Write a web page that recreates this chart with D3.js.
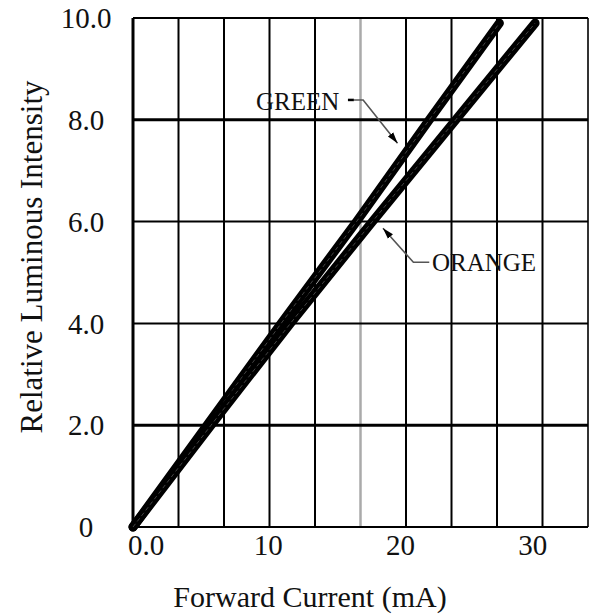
<!DOCTYPE html>
<html><head><meta charset="utf-8">
<script src="https://cdn.jsdelivr.net/npm/d3@7"></script>
<style>html,body{margin:0;padding:0;background:#fff;}</style>
</head><body>
<svg id="c" width="595" height="615"></svg>
<script>
// Data (Forward Current mA, Relative Luminous Intensity)
const greenCurrent = [0, 5.6, 11.2, 16.9, 22.4, 27.7];
const greenIntensity = [0, 2.0, 4.0, 6.0, 8.0, 9.9];
const orangeCurrent = [0, 5.9, 11.9, 18.1, 24.4, 30.4];
const orangeIntensity = [0, 2.0, 4.0, 6.0, 8.0, 9.9];
const xTicks = [0, 10, 20, 30];
const xTickLabels = ["0.0", "10", "20", "30"];
const yTicks = [0, 2, 4, 6, 8, 10];
const yTickLabels = ["0", "2.0", "4.0", "6.0", "8.0", "10.0"];
const seriesNames = ["GREEN", "ORANGE"];

const FONT = "'Liberation Serif', 'Times New Roman', Times, 'DejaVu Serif', serif";
const svg = d3.select("#c").attr("font-family", FONT);
const L = 133, R = 588, T = 18, B = 527;
const x = d3.scaleLinear().domain([0, 34.4]).range([L, R]);
const y = d3.scaleLinear().domain([0, 10]).range([B, T]);
const gx = d3.scaleLinear().domain([0, 10]).range([L, R]); // grid columns

svg.append("rect").attr("width", 595).attr("height", 615).attr("fill", "#fff");

// vertical grid
const g = svg.append("g");
d3.range(0, 11).forEach(i => {
  g.append("line").attr("x1", gx(i)).attr("x2", gx(i)).attr("y1", y(10)).attr("y2", y(0))
    .attr("stroke", i === 5 ? "#aaa" : (i === 10 ? "#333" : "#000"))
    .attr("stroke-width", i === 0 ? 3 : (i === 5 ? 2.5 : 2));
});
// horizontal grid
yTicks.forEach(v => {
  g.append("line").attr("x1", L).attr("x2", R).attr("y1", y(v)).attr("y2", y(v))
    .attr("stroke", "#000").attr("stroke-width", (v === 8 || v === 2) ? 3 : 2);
});

// tick labels
svg.selectAll(".yl").data(yTicks).enter().append("text")
  .attr("font-family", FONT)
  .attr("x", 86).attr("y", d => y(d)).attr("dy", "0.35em")
  .attr("text-anchor", "middle").attr("font-size", 29).attr("fill", "#111")
  .text((d, i) => yTickLabels[i]);
svg.selectAll(".xl").data(xTicks).enter().append("text")
  .attr("font-family", FONT)
  .attr("x", d => d === 0 ? x(d) - 5 : x(d) + 3).attr("y", 555)
  .attr("text-anchor", d => d === 0 ? "start" : "middle").attr("font-size", 29).attr("fill", "#111")
  .text((d, i) => xTickLabels[i]);

// axis titles
svg.append("text").attr("font-family", FONT).attr("x", 310).attr("y", 607).attr("text-anchor", "middle")
  .attr("font-size", 30).attr("fill", "#111").text("Forward Current (mA)");
svg.append("text").attr("font-family", FONT).attr("transform", "translate(42,257) rotate(-90)").attr("text-anchor", "middle")
  .attr("font-size", 31).attr("fill", "#111").text("Relative Luminous Intensity");

// curves
const line = d3.line().x(d => x(d[0])).y(d => y(d[1]));
const greenData = greenCurrent.map((c, i) => [c, greenIntensity[i]]);
const orangeData = orangeCurrent.map((c, i) => [c, orangeIntensity[i]]);
[greenData, orangeData].forEach(d => {
  svg.append("path").attr("d", line(d)).attr("fill", "none").attr("stroke", "#000")
    .attr("stroke-width", 9).attr("stroke-linecap", "round").attr("stroke-linejoin", "round");
  svg.append("path").attr("d", line(d)).attr("fill", "none").attr("stroke", "#444")
    .attr("stroke-width", 1).attr("stroke-dasharray", "4,3");
});

// annotations
svg.append("defs").append("marker").attr("id", "arr").attr("viewBox", "0 0 10 10")
  .attr("refX", 10).attr("refY", 5).attr("markerWidth", 7).attr("markerHeight", 7)
  .attr("orient", "auto-start-reverse")
  .append("path").attr("d", "M0,2 L10,5 L0,8 Z").attr("fill", "#000");

const ann = [
  {name: seriesNames[0], text: [15.6, 8.39], anchor: "end", dash: [[16.25, 8.39], [16.7, 8.39]], path: [[16.7, 8.39], [17.4, 8.39], [20.0, 7.54]], baseline: 10},
  {name: seriesNames[1], text: [22.6, 5.2], anchor: "start", dash: null, path: [[22.4, 5.2], [21.2, 5.2], [18.9, 5.87]], baseline: 9}
];
ann.forEach(a => {
  svg.append("text").attr("font-family", FONT).attr("x", x(a.text[0])).attr("y", y(a.text[1]) + a.baseline)
    .attr("text-anchor", a.anchor).attr("font-size", 25).attr("fill", "#111").text(a.name);
  if (a.dash) svg.append("path").attr("d", line(a.dash)).attr("stroke", "#000").attr("stroke-width", 2.5).attr("fill", "none");
  svg.append("path").attr("d", line(a.path)).attr("stroke", "#555").attr("stroke-width", 1.6)
    .attr("fill", "none").attr("marker-end", "url(#arr)");
});
</script>
</body></html>
